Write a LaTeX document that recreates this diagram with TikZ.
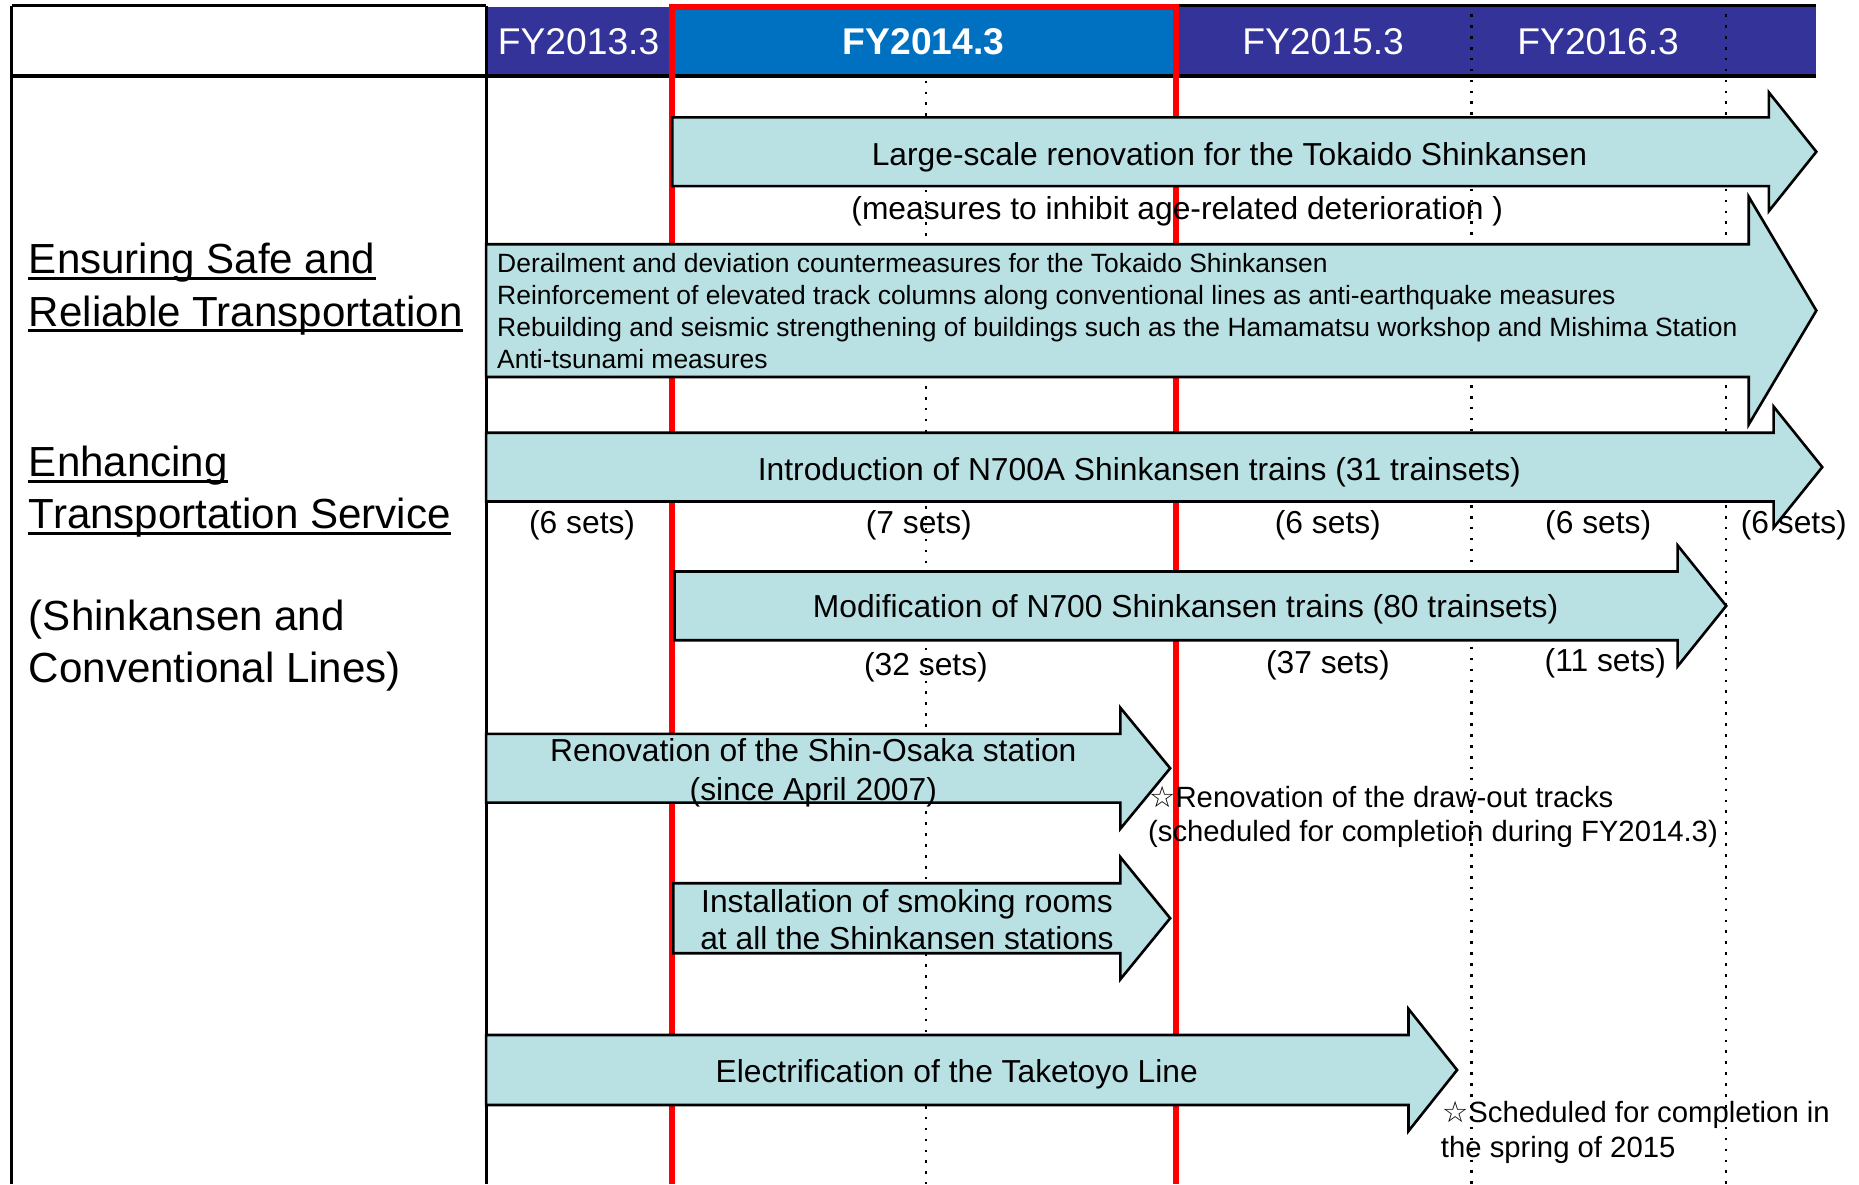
\documentclass[tikz,border=0pt]{standalone}
\usepackage{fontspec}
\setmainfont{Liberation Sans}
\newfontfamily\symbolfont{DejaVu Sans}
\usetikzlibrary{positioning}

\definecolor{fypurple}{HTML}{333399}
\definecolor{fyblue}{HTML}{0070C0}
\definecolor{planfill}{HTML}{B9E0E3}
\definecolor{nowred}{HTML}{FF0000}

\newcommand{\hollowstar}{{\symbolfont ☆}}
% block arrow: left, top, bottom, neck, tip, head overhang
\newcommand{\planarrow}[6]{%
  \draw[plan] (#1,#2) -- (#4,#2) -- (#4,#2-#6) -- (#5,{(#2+#3)/2})
    -- (#4,#3+#6) -- (#4,#3) -- (#1,#3) -- cycle;}

\tikzset{
  frame/.style={line width=1.3pt},
  nowline/.style={draw=nowred, line width=2.6pt},
  yeargrid/.style={line width=1pt, dash pattern=on 1.1pt off 3.5pt},
  plan/.style={draw=black, line width=1.1pt, fill=planfill, line join=miter},
  fy/.style={text=white, inner sep=0pt, font=\fontsize{15.7}{19}\selectfont},
  theme/.style={anchor=base west, inner sep=0pt, font=\fontsize{17.75}{21}\selectfont},
  uline/.style={line width=1.3pt},
  plantext/.style={anchor=base, inner sep=0pt, font=\fontsize{13.4}{16}\selectfont},
  smalltext/.style={anchor=base west, inner sep=0pt, font=\fontsize{11.15}{13.5}\selectfont},
  note/.style={anchor=base west, inner sep=0pt, font=\fontsize{12.35}{15}\selectfont},
}

\begin{document}
\begin{tikzpicture}[x=0.5pt, y=-0.5pt]
\useasboundingbox (0,0) rectangle (1568,999);

% year header
\fill[fypurple] (410,6) rectangle (567,64);
\fill[fyblue] (567,6) rectangle (992,64);
\fill[fypurple] (992,6) rectangle (1532,64);

% half-year lines
\draw[yeargrid] (781,68) -- (781,999);
\foreach \x in {1241,1456}
  \draw[yeargrid] (\x,12) -- (\x,999);

% table lines
\draw[frame] (10,5) -- (410,5) (992,5) -- (1532,5);
\draw[frame] (10,5) -- (10,999) (410,5) -- (410,999);
\draw[frame, line width=1.9pt] (10,64) -- (1532,64);

% current fiscal year
\draw[nowline] (567,999) -- (567,6) -- (992,6) -- (992,999);

\node[fy] (fy13) at (488,35) {FY2013.3};
\node[fy, font=\fontsize{15.7}{19}\selectfont\bfseries] (fy14) at (779,35) {FY2014.3};
\node[fy] (fy15) at (1116,35) {FY2015.3};
\node[fy] (fy16) at (1348,35) {FY2016.3};

% themes
\node[theme] (safe1) at (24,231) {Ensuring Safe and};
\node[theme] (safe2) at (24,275) {Reliable Transportation};
\node[theme] (serv1) at (24,402) {Enhancing};
\node[theme] (serv2) at (24,446) {Transportation Service};
\node[theme] (lines1) at (24,532) {(Shinkansen and};
\node[theme] (lines2) at (24,576) {Conventional Lines)};
\foreach \n in {safe1,safe2,serv1,serv2}
  \draw[uline] ([yshift=-2pt]\n.base west) -- ([yshift=-2pt]\n.base east);

% plans
\planarrow{567}{99}{157}{1492}{1532}{21}
\node[plantext] (renov) at (1037,140) {Large-scale renovation for the Tokaido Shinkansen};
\node[plantext] (renovnote) at (993,185) {(measures to inhibit age-related deterioration )};

\planarrow{410}{206}{318}{1475}{1532}{40}
\foreach \t [count=\i] in {Derailment and deviation countermeasures for the Tokaido Shinkansen,
    Reinforcement of elevated track columns along conventional lines as anti-earthquake measures,
    Rebuilding and seismic strengthening of buildings such as the Hamamatsu workshop and Mishima Station,
    Anti-tsunami measures}
  \node[smalltext] (quake\i) at (419,{230+27*(\i-1)}) {\t};

\planarrow{410}{365}{423}{1496}{1537}{22}
\node[plantext] (n700a) at (961,405) {Introduction of N700A Shinkansen trains (31 trainsets)};
\foreach \x/\k [count=\i] in {491/6,775/7,1120/6,1348/6,1513/6}
  \node[plantext] (n700a\i) at (\x,450) {(\k{} sets)};

\planarrow{569}{482}{540}{1415}{1456}{22}
\node[plantext] (n700) at (1000,521) {Modification of N700 Shinkansen trains (80 trainsets)};
\foreach \x/\y/\k [count=\i] in {781/570/32,1120/568/37,1354/566/11}
  \node[plantext] (n700\i) at (\x,\y) {(\k{} sets)};

\planarrow{410}{619}{677}{945}{987}{22}
\node[plantext] (osaka) at (686,642) {Renovation of the Shin-Osaka station};
\node[plantext] (osaka2) at (686,675) {(since April 2007)};
\node[note] (tracks) at (969,681) {\hollowstar Renovation of the draw-out tracks};
\node[note] (tracks2) at (968,710) {(scheduled for completion during FY2014.3)};

\planarrow{568}{745}{804}{945}{987}{22}
\node[plantext] (smoke) at (765,770) {Installation of smoking rooms};
\node[plantext] (smoke2) at (765,801) {at all the Shinkansen stations};

\planarrow{410}{873}{932}{1188}{1229}{22}
\node[plantext] (taketoyo) at (807,913) {Electrification of the Taketoyo Line};
\node[note] (spring) at (1216,947) {\hollowstar Scheduled for completion in};
\node[note] (spring2) at (1215,976) {the spring of 2015};
\end{tikzpicture}
\end{document}
